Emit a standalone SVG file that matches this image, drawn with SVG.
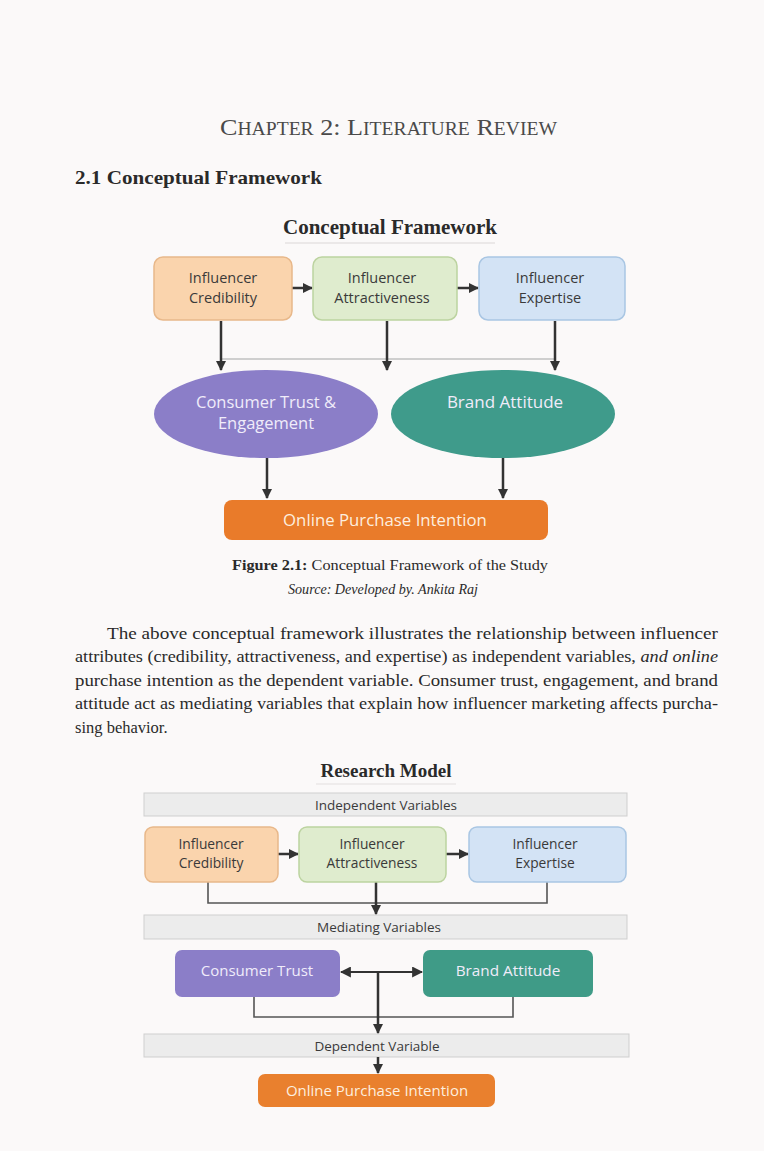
<svg xmlns="http://www.w3.org/2000/svg" width="764" height="1151" viewBox="0 0 764 1151">
<style>
.serif{font-family:"Liberation Serif","Times New Roman",serif;fill:#2a2a2a}
.sans{font-family:"Open Sans","Noto Sans",sans-serif}
.box{stroke-width:1.5}
.lbl{font-size:14.5px;fill:#3a3a3a;text-anchor:middle}
.rl{font-size:13.8px;fill:#3a3a3a;text-anchor:middle}
.wl{fill:#f0ecfa;text-anchor:middle}
.band{fill:#ececec;stroke:#cfcfcf;stroke-width:1}
.bandt{font-size:13.5px;fill:#3a3a3a;text-anchor:middle}
.ar{stroke:#333;stroke-width:2.5;fill:none}
.ln{stroke:#555;stroke-width:1.6;fill:none}
.para{font-size:16.5px}
</style>
<defs>
<marker id="ah" viewBox="0 0 10 10" refX="9" refY="5" markerWidth="4" markerHeight="4" orient="auto"><path d="M0,0 L10,5 L0,10 z" fill="#333"/></marker>
<marker id="ah2" viewBox="0 0 10 10" refX="9" refY="5" markerWidth="5" markerHeight="5" orient="auto-start-reverse"><path d="M0,0 L10,5 L0,10 z" fill="#333"/></marker>
</defs>
<rect width="764" height="1151" fill="#fbf9f9"/>

<g id="headings">
<text class="serif" x="220" y="135" textLength="337" lengthAdjust="spacingAndGlyphs" style="fill:#4a4a4a"><tspan font-size="24">C</tspan><tspan font-size="18">HAPTER</tspan><tspan font-size="24"> 2: L</tspan><tspan font-size="18">ITERATURE</tspan><tspan font-size="24"> R</tspan><tspan font-size="18">EVIEW</tspan></text>
<text class="serif" x="75" y="184" font-size="19.5" font-weight="bold" textLength="247" lengthAdjust="spacingAndGlyphs">2.1  Conceptual Framework</text>
<text class="serif" x="390" y="234" font-size="21" font-weight="bold" text-anchor="middle">Conceptual Framework</text>
<line x1="285" y1="243" x2="495" y2="243" stroke="#e6e2e2" stroke-width="1.5"/>
</g>

<g id="connectors-top">
<line class="ar" x1="292" y1="288" x2="312" y2="288" marker-end="url(#ah)"/>
<line class="ar" x1="457" y1="288" x2="478" y2="288" marker-end="url(#ah)"/>
<line x1="221" y1="359" x2="555" y2="359" stroke="#cfcfcf" stroke-width="2"/>
<line class="ar" x1="221" y1="321" x2="221" y2="370" marker-end="url(#ah)"/>
<line class="ar" x1="387" y1="321" x2="387" y2="370" marker-end="url(#ah)"/>
<line class="ar" x1="555" y1="321" x2="555" y2="370" marker-end="url(#ah)"/>
<line class="ar" x1="267" y1="457" x2="267" y2="498" marker-end="url(#ah)"/>
<line class="ar" x1="503" y1="457" x2="503" y2="498" marker-end="url(#ah)"/>
</g>

<g id="t-cred">
<rect class="box" x="154" y="257" width="138" height="63" rx="9" fill="#fad4ad" stroke="#e8b88a"/>
<text class="sans lbl" x="223" y="283">Influencer</text>
<text class="sans lbl" x="223" y="303">Credibility</text>
</g>
<g id="t-attr">
<rect class="box" x="313" y="257" width="144" height="63" rx="9" fill="#dfecce" stroke="#bcd3a0"/>
<text class="sans lbl" x="382" y="283">Influencer</text>
<text class="sans lbl" x="382" y="303">Attractiveness</text>
</g>
<g id="t-exp">
<rect class="box" x="479" y="257" width="146" height="63" rx="9" fill="#d3e3f5" stroke="#a9c6e3"/>
<text class="sans lbl" x="550" y="283">Influencer</text>
<text class="sans lbl" x="550" y="303">Expertise</text>
</g>
<g id="t-trust">
<ellipse cx="266" cy="414" rx="112" ry="44" fill="#8b7ec8"/>
<text class="sans wl" x="266" y="408" font-size="16.5">Consumer Trust &amp;</text>
<text class="sans wl" x="266" y="429" font-size="16.5">Engagement</text>
</g>
<g id="t-brand">
<ellipse cx="503" cy="414" rx="112" ry="44" fill="#3f9b8b"/>
<text class="sans wl" x="505" y="408" font-size="17">Brand Attitude</text>
</g>
<g id="t-opi">
<rect x="224" y="500" width="324" height="40" rx="8" fill="#e97b2a"/>
<text class="sans wl" x="385" y="526" font-size="16.8" style="fill:#fdeedf">Online Purchase Intention</text>
</g>

<g id="caption">
<text class="serif" x="232" y="570" font-size="14" textLength="316" lengthAdjust="spacingAndGlyphs"><tspan font-weight="bold">Figure 2.1:</tspan> Conceptual Framework of the Study</text>
<text class="serif" x="288" y="594" font-size="14" font-style="italic" textLength="190" lengthAdjust="spacingAndGlyphs">Source: Developed by. Ankita Raj</text>
</g>

<g id="paragraph" class="serif para">
<text x="107" y="639" textLength="611" lengthAdjust="spacingAndGlyphs">The above conceptual framework illustrates the relationship between influencer</text>
<text x="75" y="662" textLength="643" lengthAdjust="spacingAndGlyphs">attributes (credibility, attractiveness, and expertise) as independent variables, <tspan font-style="italic">and online</tspan></text>
<text x="75" y="686" textLength="643" lengthAdjust="spacingAndGlyphs">purchase intention as the dependent variable. Consumer trust, engagement, and brand</text>
<text x="75" y="709" textLength="643" lengthAdjust="spacingAndGlyphs">attitude act as mediating variables that explain how influencer marketing affects purcha-</text>
<text x="75" y="733">sing behavior.</text>
</g>

<g id="rm-title">
<text class="serif" x="386" y="777" font-size="19" font-weight="bold" text-anchor="middle">Research Model</text>
<line x1="316" y1="784" x2="456" y2="784" stroke="#e4e0e0" stroke-width="1.2"/>
</g>

<g id="band-indep">
<rect class="band" x="144" y="793" width="483" height="23"/>
<text class="sans bandt" x="386" y="810">Independent Variables</text>
</g>
<g id="band-med">
<rect class="band" x="144" y="915" width="483" height="24"/>
<text class="sans bandt" x="379" y="932">Mediating Variables</text>
</g>
<g id="band-dep">
<rect class="band" x="144" y="1034" width="485" height="23"/>
<text class="sans bandt" x="377" y="1051">Dependent Variable</text>
</g>

<g id="connectors-rm">
<line class="ar" x1="278" y1="854" x2="298" y2="854" marker-end="url(#ah)"/>
<line class="ar" x1="446" y1="854" x2="468" y2="854" marker-end="url(#ah)"/>
<polyline class="ln" points="208,882 208,903 547,903 547,882"/>
<line class="ar" x1="376" y1="882" x2="376" y2="914" stroke-width="2" marker-end="url(#ah)"/>
<line x1="341" y1="972" x2="422" y2="972" stroke="#333" stroke-width="2.2" marker-start="url(#ah2)" marker-end="url(#ah2)"/>
<polyline class="ln" points="254,997 254,1017 513,1017 513,997"/>
<line class="ar" x1="378" y1="972" x2="378" y2="1033" stroke-width="2" marker-end="url(#ah)"/>
<line class="ar" x1="378" y1="1057" x2="378" y2="1073" stroke-width="2" marker-end="url(#ah)"/>
</g>

<g id="r-cred">
<rect class="box" x="145" y="827" width="133" height="55" rx="8" fill="#fad4ad" stroke="#e8b88a"/>
<text class="sans rl" x="211" y="849">Influencer</text>
<text class="sans rl" x="211" y="868">Credibility</text>
</g>
<g id="r-attr">
<rect class="box" x="299" y="827" width="147" height="55" rx="8" fill="#dfecce" stroke="#bcd3a0"/>
<text class="sans rl" x="372" y="849">Influencer</text>
<text class="sans rl" x="372" y="868">Attractiveness</text>
</g>
<g id="r-exp">
<rect class="box" x="469" y="827" width="157" height="55" rx="8" fill="#d3e3f5" stroke="#a9c6e3"/>
<text class="sans rl" x="545" y="849">Influencer</text>
<text class="sans rl" x="545" y="868">Expertise</text>
</g>
<g id="r-trust">
<rect x="175" y="950" width="165" height="47" rx="7" fill="#8b7ec8"/>
<text class="sans wl" x="257" y="976" font-size="15">Consumer Trust</text>
</g>
<g id="r-brand">
<rect x="423" y="950" width="170" height="47" rx="7" fill="#3f9b87"/>
<text class="sans wl" x="508" y="976" font-size="15.3">Brand Attitude</text>
</g>
<g id="r-opi">
<rect x="258" y="1074" width="237" height="33" rx="7" fill="#e9802e"/>
<text class="sans wl" x="377" y="1096" font-size="15" style="fill:#fdeedf">Online Purchase Intention</text>
</g>
</svg>
